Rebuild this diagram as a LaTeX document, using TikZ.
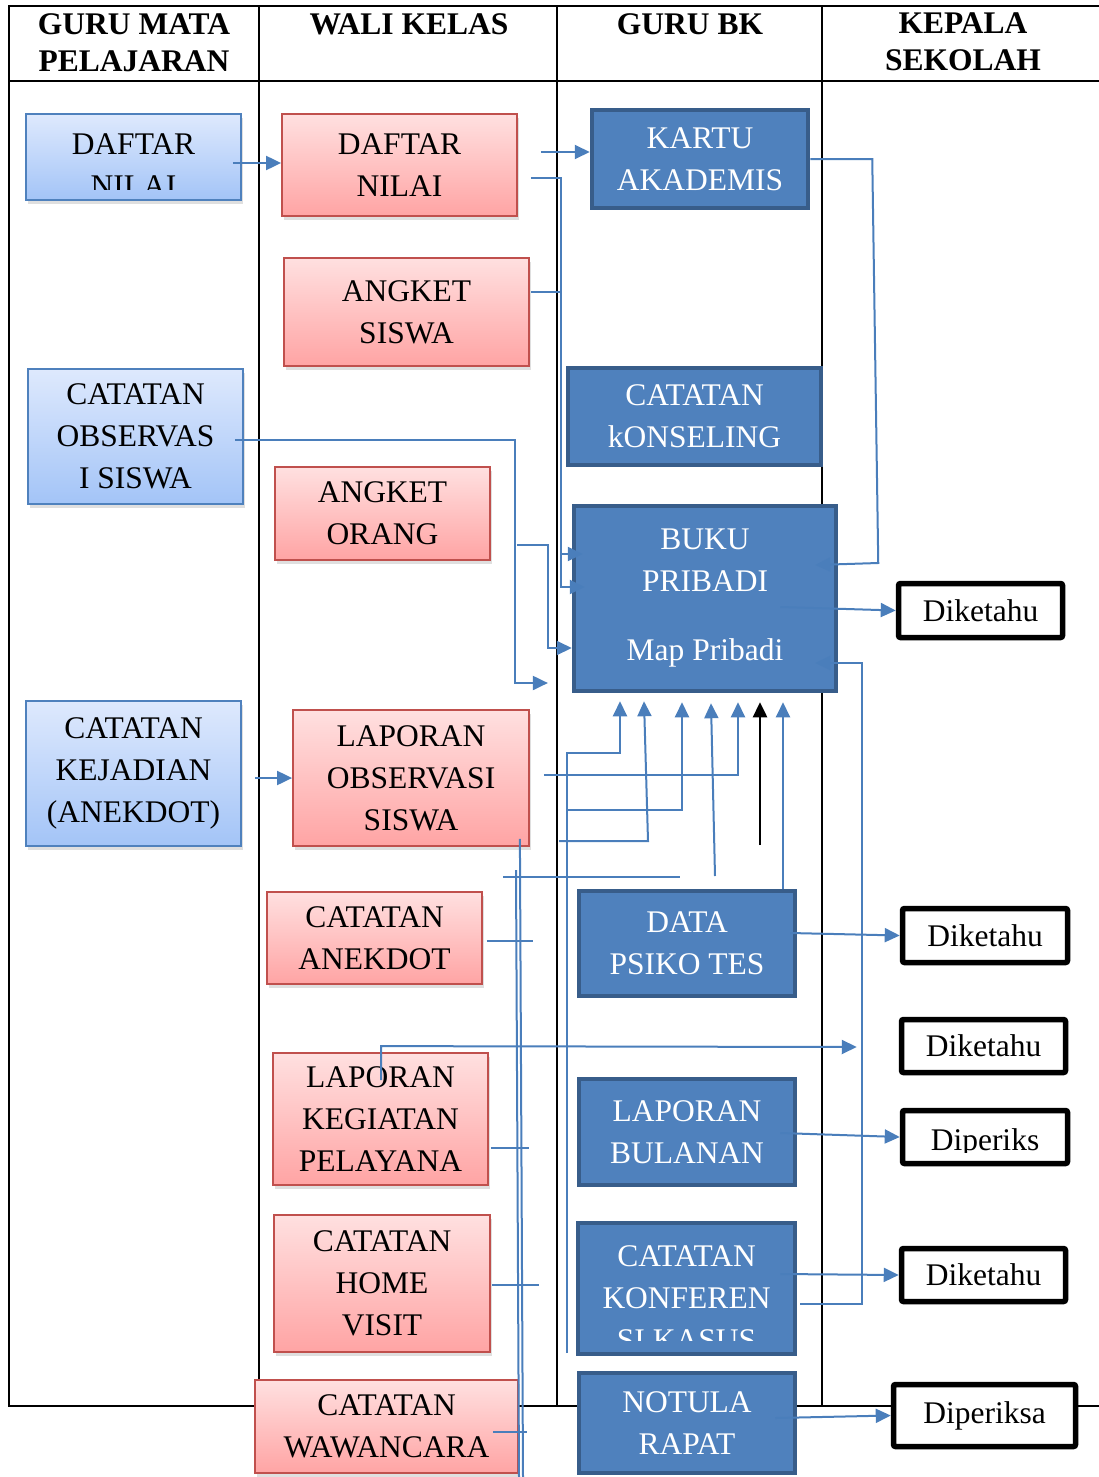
\documentclass[tikz,border=0pt]{standalone}
\usepackage{fontspec}
\setmainfont{Liberation Serif}
\usetikzlibrary{calc,arrows.meta,shadows}

\definecolor{connblue}{HTML}{4A7EBB}
\definecolor{bkfill}{HTML}{4F81BD}
\definecolor{bkline}{HTML}{385D8A}
\definecolor{gmtop}{HTML}{DEE9FD}
\definecolor{gmbot}{HTML}{A3C4F7}
\definecolor{gmline}{HTML}{4F81BD}
\definecolor{wktop}{HTML}{FFE0E0}
\definecolor{wkbot}{HTML}{FFA4A4}
\definecolor{wkline}{HTML}{C0504D}

\tikzset{
  frame/.style={draw=black, line width=2.5pt},
  head/.style={font=\bfseries\fontsize{31.5}{37}\selectfont, align=center, inner sep=0pt, anchor=north},
  boxtext/.style={font=\fontsize{31.5}{42}\selectfont, align=center, inner sep=0pt},
  boxshadow/.style={drop shadow={opacity=0.25, shadow xshift=2pt, shadow yshift=-4pt}},
  gmbox/.style={boxtext, draw=gmline, line width=1.8pt, top color=gmtop, bottom color=gmbot, boxshadow},
  wkbox/.style={boxtext, draw=wkline, line width=1.8pt, top color=wktop, bottom color=wkbot, boxshadow},
  bkbox/.style={boxtext, text=white, fill=bkfill, draw=bkline, line width=4.5pt},
  kepbox/.style={boxtext, fill=white, draw=black, line width=5.5pt, rounded corners=2pt},
  conn/.style={draw=connblue, line width=2pt},
  arr/.style={conn, -{Triangle[length=15pt,width=14pt]}}
}

\begin{document}
\begin{tikzpicture}[x=1pt,y=-1pt]
  \useasboundingbox (0,0) rectangle (1099,1477);

  %% table with four columns
  \draw[frame] (9,6) rectangle (1110,1406);
  \draw[frame] (9,81) -- (1110,81);
  \foreach \x in {259,557,822}
    \draw[frame] (\x,6) -- (\x,1406);

  \node[head] (hGuru)   at (134,13) {GURU MATA\\PELAJARAN};
  \node[head] (hWali)   at (409,13) {WALI KELAS};
  \node[head] (hBK)     at (690,13) {GURU BK};
  \node[head] (hKepala) at (963,13) {KEPALA\\SEKOLAH};

  %% Guru mata pelajaran
  \node[gmbox, minimum width=215, minimum height=86] (gNilai) at (133.5,157) {};
  \begin{scope}
    \clip (gNilai.north west) rectangle ($(gNilai.south east)+(0,-11)$);
    \node[boxtext] (gNilaiText) at (133.5,165) {DAFTAR\\NILAI};
  \end{scope}
  \node[gmbox, minimum width=215, minimum height=135] (gObservasi) at (135.5,436.5) {CATATAN\\OBSERVAS\\I SISWA};
  \node[gmbox, minimum width=215, minimum height=145] (gKejadian) at (133.5,773.5) {CATATAN\\KEJADIAN\\(ANEKDOT)};

  %% Wali kelas
  \foreach \nm/\cx/\cy/\w/\h/\txt in {
      wNilai/399.5/165/235/102/{DAFTAR\\NILAI},
      wAngketSiswa/406.5/312/245/108/{ANGKET\\SISWA},
      wAngketOrang/382.5/513.5/215/93/{ANGKET\\ORANG},
      wLaporanObs/411/778/236/136/{LAPORAN\\OBSERVASI\\SISWA},
      wAnekdot/374.5/938/215/92/{CATATAN\\ANEKDOT},
      wKegiatan/380.5/1119/215/132/{LAPORAN\\KEGIATAN\\PELAYANA},
      wHomeVisit/382/1283.5/216/137/{CATATAN\\HOME\\VISIT},
      wWawancara/386.5/1426.5/263/93/{CATATAN\\WAWANCARA}}
    \node[wkbox, minimum width=\w, minimum height=\h] (\nm) at (\cx,\cy) {\txt};

  %% Guru BK
  \foreach \nm/\cx/\cy/\w/\h/\txt in {
      kKartu/700/159/216/98/{KARTU\\AKADEMIS},
      kKonseling/694.5/416.5/253/97/{CATATAN\\kONSELING},
      kBuku/705/598.5/262/185/{BUKU\\PRIBADI\\[27pt]Map Pribadi},
      kPsiko/687/943.5/216/105/{DATA\\PSIKO TES},
      kBulanan/687/1132/216/106/{LAPORAN\\BULANAN},
      kNotula/687/1423/216/100/{NOTULA\\RAPAT}}
    \node[bkbox, minimum width=\w, minimum height=\h] (\nm) at (\cx,\cy) {\txt};
  \node[bkbox, minimum width=217, minimum height=131] (kKonferensi) at (686.5,1288.5) {};
  \begin{scope}
    \clip (kKonferensi.north west) rectangle ($(kKonferensi.south east)+(0,-16)$);
    \node[boxtext, text=white] (kKonferensiText) at (686.5,1298.5) {CATATAN\\KONFEREN\\SI KASUS};
  \end{scope}

  %% Kepala sekolah
  \foreach \nm/\cx/\cy/\w/\h/\txt in {
      dBuku/980.5/610.5/164/54/Diketahu,
      dPsiko/985/935.5/165/54/Diketahu,
      dKegiatan/983.5/1046/164/53/Diketahu,
      dKonferensi/983.5/1275/164/53/Diketahu,
      dNotula/984.5/1415.5/182/62/Diperiksa}
    \node[kepbox, minimum width=\w, minimum height=\h] (\nm) at (\cx,\cy) {\txt};
  \node[kepbox, minimum width=165, minimum height=53] (dBulanan) at (985,1137) {};
  \begin{scope}
    \clip (dBulanan.north west) rectangle ($(dBulanan.south east)+(0,-14)$);
    \node[boxtext] (dBulananText) at (985,1143) {Diperiks};
  \end{scope}

  %% arrows between columns
  \draw[arr] (gNilai.east) ++(-9,6) coordinate (gNilaiOut) -- (gNilaiOut -| wNilai.west);
  \draw[arr] (gKejadian.east) ++(13,4.5) coordinate (gKejOut) -- (gKejOut -| wLaporanObs.west);
  \draw[arr] (gObservasi.east) ++(-9,3.5) -- ++(280,0) -- ++(0,243) -- ++(33,0);
  \draw[arr] (wNilai.east) ++(23,-13) coordinate (wNilaiOut) -- (wNilaiOut -| kKartu.west);
  \draw[arr] (wNilai.east) ++(13,13) -- ++(30,0) |- ($(kBuku.west)+(11,-44.5)$);
  \draw[arr] (wAngketSiswa.east) ++(1,-20) -- ++(30,0) |- ($(kBuku.west)+(13,-11.5)$);
  \draw[arr] (wAngketOrang.east) ++(26,31.5) -- ++(31,0) |- ($(kBuku.west)+(0,49.5)$);

  %% arrows up into the buku pribadi
  \coordinate (trunkEnd) at (567,1353);
  \coordinate (obsFoot) at (559,841);
  \coordinate (psikoFree) at (715,876);
  \coordinate (blackFree) at (760,845);
  \draw[arr] (trunkEnd) |- ($(kBuku.south)+(-85,60)$) -- ($(kBuku.south)+(-85,8)$);
  \draw[arr] ($(trunkEnd)+(0,-543)$) -| ($(kBuku.south)+(-23,9)$);
  \draw[arr] (obsFoot) -- ++(89,0) -- ($(kBuku.south)+(-61,8)$);
  \draw[arr] (psikoFree) -- ($(kBuku.south)+(6,10)$);
  \draw[arr] (wLaporanObs.east) ++(14,-3) -| ($(kBuku.south)+(33,9)$);
  \draw[line width=2.5pt, -{Triangle[length=15pt,width=14pt]}] (blackFree) -- ($(kBuku.south)+(55,9)$);
  \draw[arr] ($(kPsiko.north)+(96,0)$) -- ($(kBuku.south)+(78,9)$);

  %% loose lines in the wali kelas column
  \draw[conn] (503,877) -- (680,877);
  \draw[conn] ($(wLaporanObs.south east)+(-10,-8)$) -- (523,1477);
  \draw[conn] (516,870) -- (519,1477);
  \draw[conn] (wAnekdot.east) ++(4,3) -- ++(46,0);
  \draw[conn] (wKegiatan.east) ++(2,29) -- ++(38,0);
  \draw[conn] (wHomeVisit.east) ++(1,1.5) -- ++(47,0);
  \draw[conn] (wWawancara.east) ++(-26,5.5) -- ++(34,0);
  \draw[arr] (wKegiatan.north) ++(0.5,28) -- ++(0,-34) -- ($(dKegiatan.west)+(-42,1)$);

  %% arrows to kepala sekolah
  \draw[arr] (kKartu.east) -- ++(62,0) -- ++(6,404) -- ($(kBuku.east)+(-23,-33.5)$);
  \draw[arr] ($(kBuku.east)+(-58,8.5)$) -- (dBuku.west);
  \draw[arr] (kKonferensi.east) ++(3,15.5) -- ++(62,0) |- ($(kBuku.east)+(-23,64.5)$);
  \draw[arr] ($(kPsiko.east)+(-7,-10.5)$) -- (dPsiko.west);
  \draw[arr] ($(kBulanan.east)+(-17,1)$) -- (dBulanan.west);
  \draw[arr] ($(kKonferensi.east)+(-17,-14.5)$) -- (dKonferensi.west);
  \draw[arr] ($(kNotula.east)+(-22,-5)$) -- (dNotula.west);
\end{tikzpicture}
\end{document}
